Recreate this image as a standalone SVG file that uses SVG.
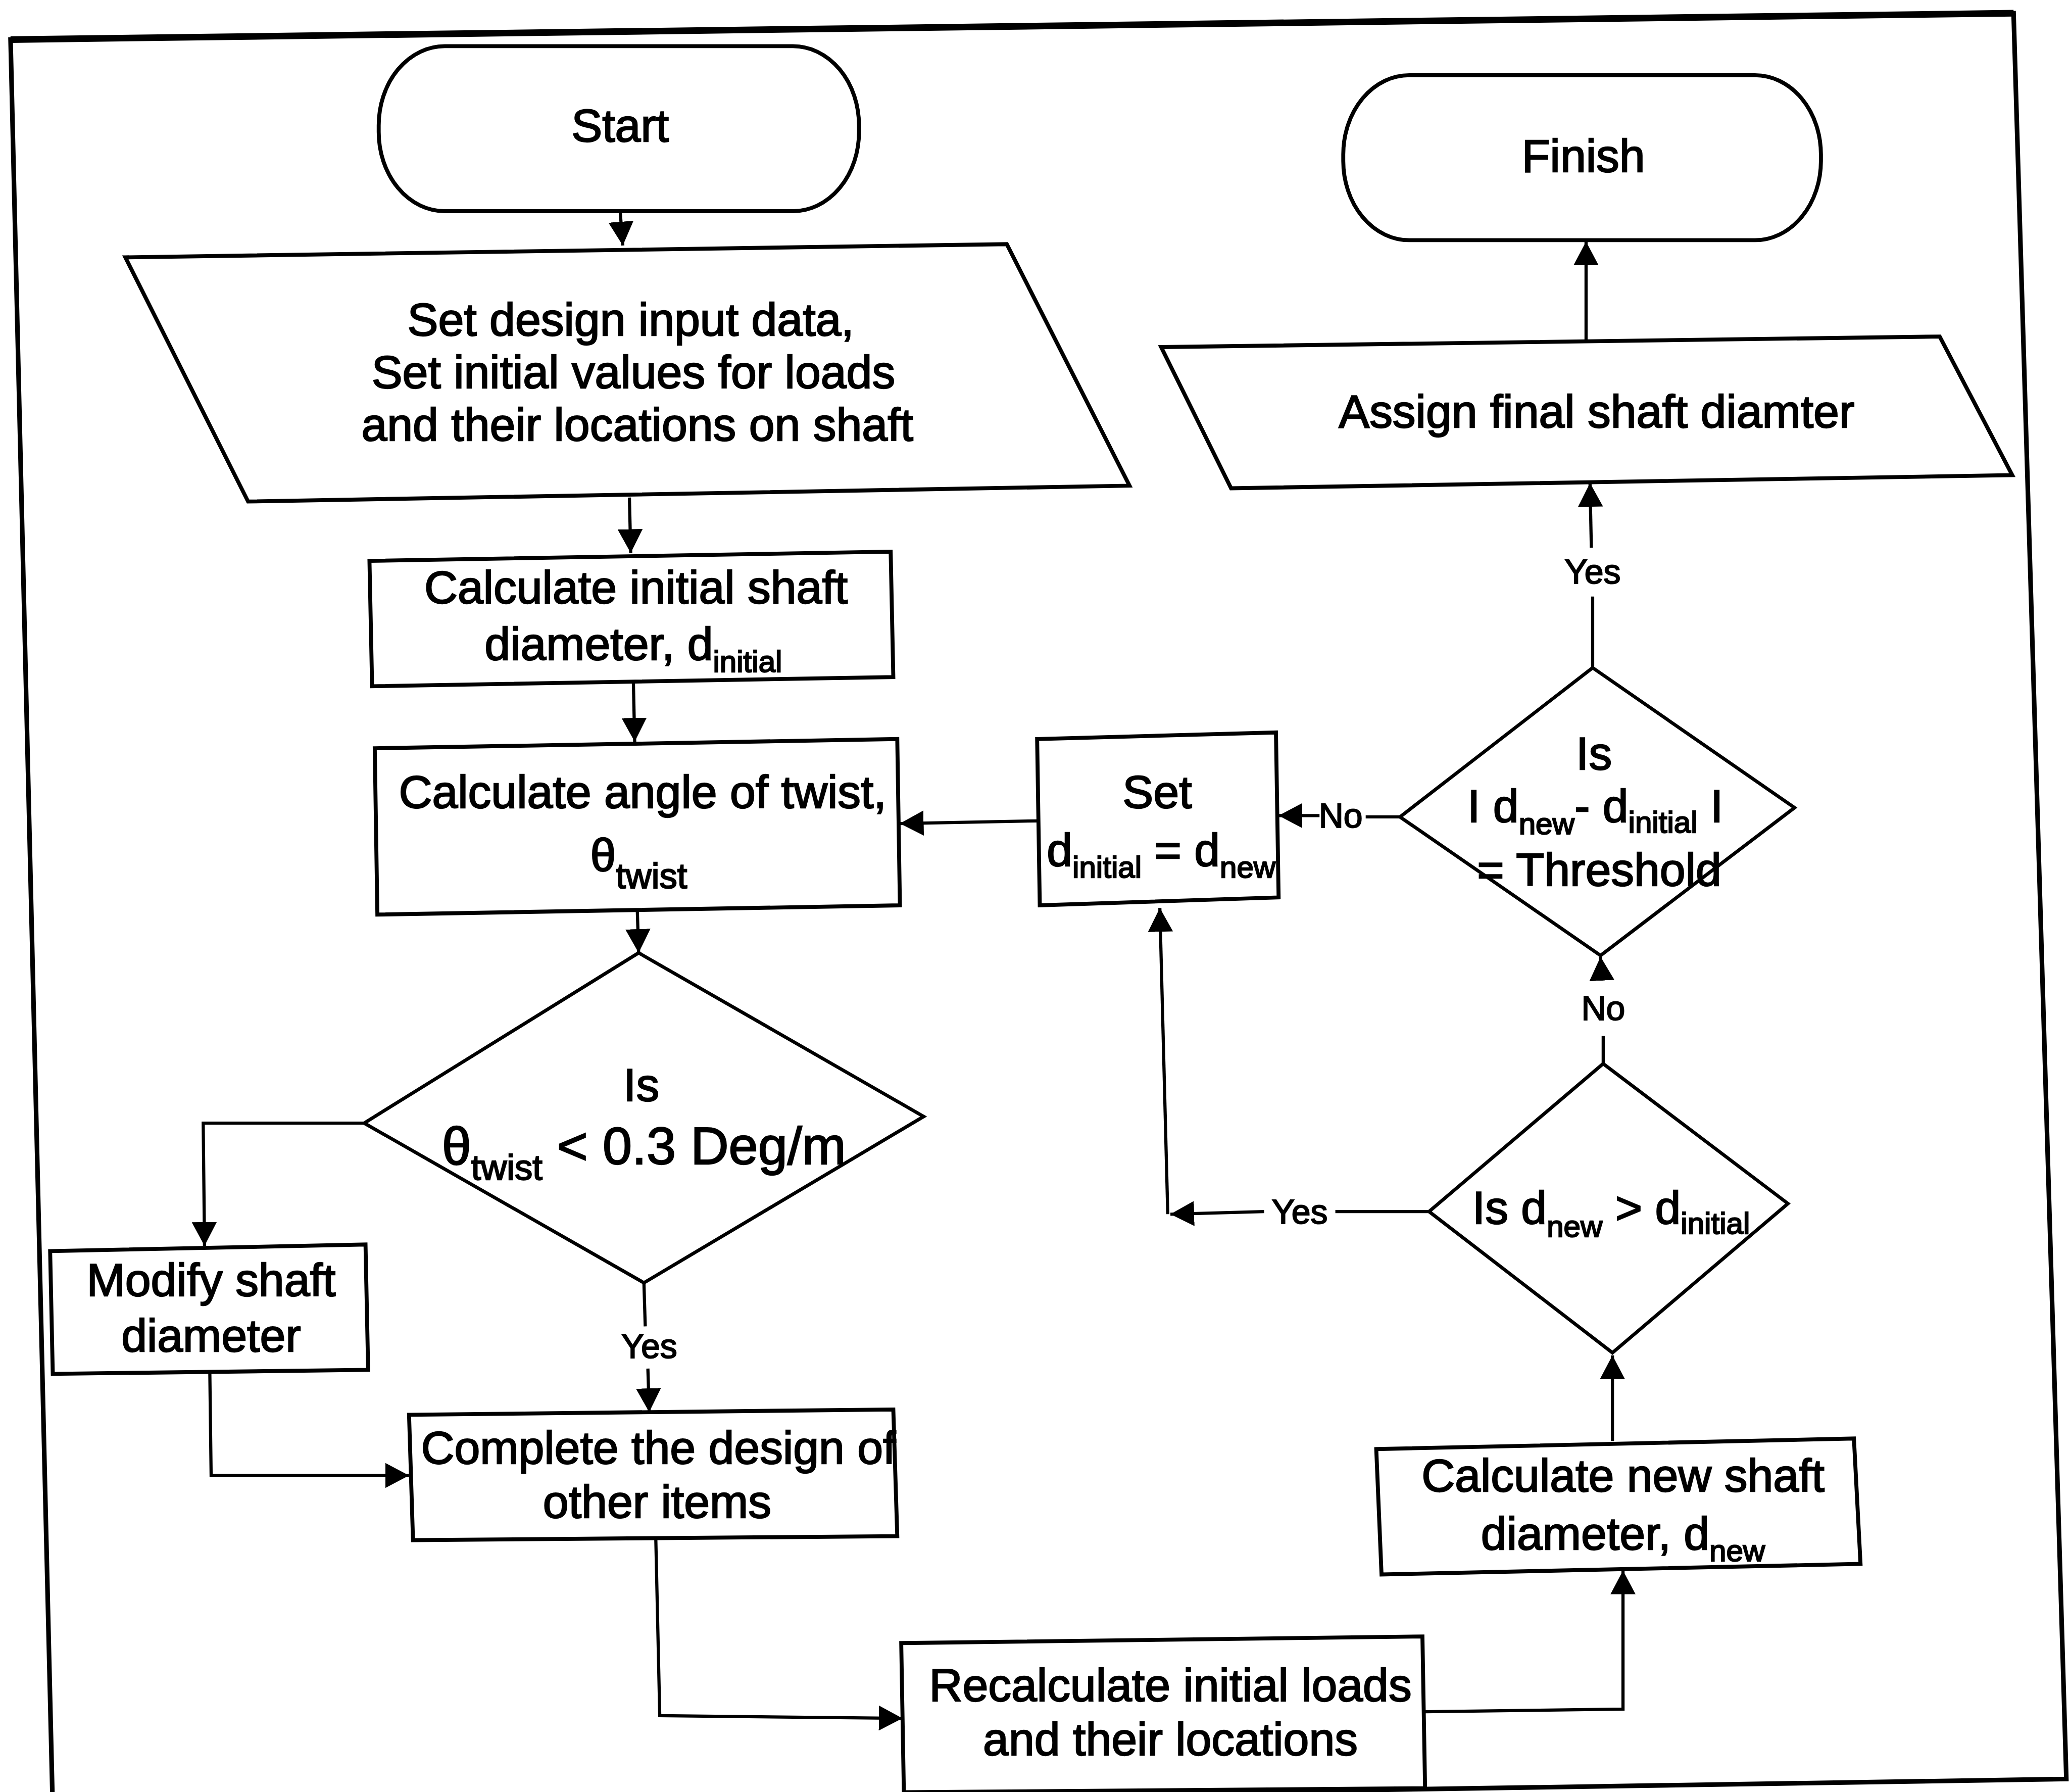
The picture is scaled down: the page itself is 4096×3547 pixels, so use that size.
<svg xmlns="http://www.w3.org/2000/svg" width="4096" height="3547" viewBox="0 0 4096 3547">
<style>
.shape{fill:#fff;stroke:#000;stroke-width:3;stroke-linejoin:miter}
.dia{fill:#fff;stroke:#000;stroke-width:2.6}
.con{fill:none;stroke:#000;stroke-width:2.4}
.t{font-family:"Liberation Sans",Arial,Helvetica,sans-serif;font-size:35px;text-anchor:middle;fill:#000;stroke:#000;stroke-width:0.9}
.big{font-size:40px}
.lbl{font-family:"Liberation Sans",Arial,Helvetica,sans-serif;font-size:26px;text-anchor:middle;fill:#000;stroke:#000;stroke-width:0.8}
.sub{font-size:23px}
.tw{font-size:27px}
</style>
<defs>
<marker id="ah" viewBox="0 0 18 19" refX="18" refY="9.5" markerWidth="18" markerHeight="19" markerUnits="userSpaceOnUse" orient="auto">
<path d="M0,0 L18,9.5 L0,19 Z" fill="#000"/>
</marker>
</defs>
<rect x="0" y="0" width="4096" height="3547" fill="#fff"/>
<g transform="scale(2.61224)">
<g id="frame">
<polygon points="8,30 1526,10 1566,1348 40,1372" fill="none" stroke="#000" stroke-width="3.5"/>
<line x1="8" y1="30" x2="1526" y2="10" stroke="#000" stroke-width="5"/>
</g>

<g id="connectors">
<path class="con" d="M470,160 L472,186" marker-end="url(#ah)"/>
<path class="con" d="M477,377 L478,419" marker-end="url(#ah)"/>
<path class="con" d="M480,516 L481,562" marker-end="url(#ah)"/>
<path class="con" d="M786,622 L682,624" marker-end="url(#ah)"/>
<path class="con" d="M483,690 L484,722" marker-end="url(#ah)"/>
<path class="con" d="M276,851 L154,851 L155,944" marker-end="url(#ah)"/>
<path class="con" d="M488,972 L489,1005"/>
<path class="con" d="M491,1037 L492,1070" marker-end="url(#ah)"/>
<path class="con" d="M159,1039 L160,1118 L310,1118" marker-end="url(#ah)"/>
<path class="con" d="M497,1166 L500,1300 L684,1302" marker-end="url(#ah)"/>
<path class="con" d="M1080,1297 L1230,1295 L1230,1190" marker-end="url(#ah)"/>
<path class="con" d="M1222,1092 L1222,1027" marker-end="url(#ah)"/>
<path class="con" d="M1083,918 L1012,918"/>
<path class="con" d="M958,918 L887,920" marker-end="url(#ah)"/>
<path class="con" d="M885,920 L879,688" marker-end="url(#ah)"/>
<path class="con" d="M1215,806 L1215,785"/>
<path class="con" d="M1214,743 L1213,725" marker-end="url(#ah)"/>
<path class="con" d="M1061,619 L1035,619"/>
<path class="con" d="M1000,618 L969,618" marker-end="url(#ah)"/>
<path class="con" d="M1207,506 L1207,452"/>
<path class="con" d="M1206,415 L1205,366" marker-end="url(#ah)"/>
<path class="con" d="M1202,258 L1202,183" marker-end="url(#ah)"/>
<text class="lbl" x="492" y="1029">Yes</text>
<text class="lbl" x="985" y="927">Yes</text>
<text class="lbl" x="1215" y="773">No</text>
<text class="lbl" x="1016" y="627">No</text>
<text class="lbl" x="1207" y="442">Yes</text>
</g>

<g id="start">
<rect class="shape" x="287" y="35" width="364" height="125" rx="50" ry="60"/>
<text class="t" x="470" y="107">Start</text>
</g>

<g id="finish">
<rect class="shape" x="1018" y="57" width="362" height="125" rx="50" ry="60"/>
<text class="t" x="1200" y="130">Finish</text>
</g>

<g id="input">
<polygon class="shape" points="95,195 763,185 856,368 188,380"/>
<text class="t" x="478" y="254">Set design input data,</text>
<text class="t" x="480" y="294">Set initial values for loads</text>
<text class="t" x="483" y="334">and their locations on shaft</text>
</g>

<g id="calc-initial">
<polygon class="shape" points="280,425 675,418 677,513 282,520"/>
<text class="t" x="482" y="457">Calculate initial shaft</text>
<text class="t" x="480" y="500">diameter, d<tspan class="sub" dy="9">initial</tspan></text>
</g>

<g id="calc-twist">
<polygon class="shape" points="284,567 680,560 682,686 286,693"/>
<text class="t" x="487" y="612">Calculate angle of twist,</text>
<text class="t" x="484" y="660">θ<tspan class="tw" dy="13">twist</tspan></text>
</g>

<g id="decision-twist">
<polygon class="dia" points="484,722 700,846 488,972 276,851"/>
<text class="t" x="486" y="834">Is</text>
<text class="t big" x="488" y="882">θ<tspan class="tw" dy="12">twist</tspan><tspan dy="-12"> &lt; 0.3 Deg/m</tspan></text>
</g>

<g id="modify">
<polygon class="shape" points="38,948 277,943 279,1038 40,1041"/>
<text class="t" x="160" y="982">Modify shaft</text>
<text class="t" x="160" y="1024">diameter</text>
</g>

<g id="complete">
<polygon class="shape" points="310,1072 677,1068 680,1164 313,1167"/>
<text class="t" x="499" y="1109">Complete the design of</text>
<text class="t" x="498" y="1150">other items</text>
</g>

<g id="recalc">
<polygon class="shape" points="683,1245 1078,1240 1080,1355 685,1358"/>
<text class="t" x="887" y="1289">Recalculate initial loads</text>
<text class="t" x="887" y="1330">and their locations</text>
</g>

<g id="calc-new">
<polygon class="shape" points="1043,1098 1405,1090 1410,1185 1047,1193"/>
<text class="t" x="1230" y="1130">Calculate new shaft</text>
<text class="t" x="1230" y="1174">diameter, d<tspan class="sub" dy="9">new</tspan></text>
</g>

<g id="decision-greater">
<polygon class="dia" points="1215,806 1355,912 1222,1025 1083,918"/>
<text class="t" x="1221" y="927">Is d<tspan class="sub" dy="10">new</tspan><tspan dy="-10"> &gt; d</tspan><tspan class="sub" dy="8">initial</tspan></text>
</g>

<g id="decision-threshold">
<polygon class="dia" points="1207,506 1360,612 1213,724 1061,619"/>
<text class="t" x="1208" y="583">Is</text>
<text class="t" x="1209" y="623">I d<tspan class="sub" dy="9">new</tspan><tspan dy="-9">- d</tspan><tspan class="sub" dy="8">initial</tspan><tspan dy="-8"> I</tspan></text>
<text class="t" x="1212" y="671">= Threshold</text>
</g>

<g id="set">
<polygon class="shape" points="786,560 967,555 969,680 788,686"/>
<text class="t" x="877" y="612">Set</text>
<text class="t" x="880" y="656">d<tspan class="sub" dy="9">initial</tspan><tspan dy="-9"> = d</tspan><tspan class="sub" dy="9">new</tspan></text>
</g>

<g id="assign">
<polygon class="shape" points="880,263 1470,255 1525,360 933,370"/>
<text class="t" x="1210" y="324">Assign final shaft diamter</text>
</g>
</g>
</svg>
